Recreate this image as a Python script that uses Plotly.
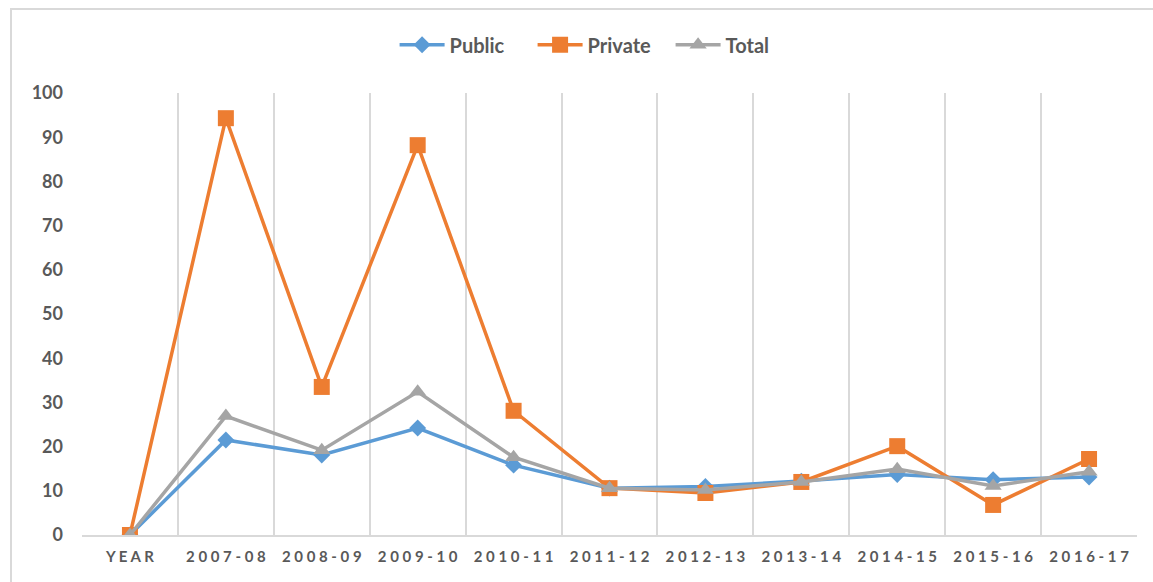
import plotly.graph_objects as go

categories = ["YEAR", "2007-08", "2008-09", "2009-10", "2010-11", "2011-12",
              "2012-13", "2013-14", "2014-15", "2015-16", "2016-17"]
public = [0, 21.5, 18.1, 24.2, 15.8, 10.6, 11.0, 12.2, 13.7, 12.5, 13.1]
private = [0, 94.3, 33.5, 88.2, 28.1, 10.6, 9.5, 12.0, 20.1, 6.8, 17.2]
total = [0, 26.9, 19.2, 32.4, 17.6, 10.6, 10.2, 12.0, 14.9, 11.1, 14.3]
y_ticks = list(range(0, 101, 10))

SP = " "
tick_text = [SP.join(list(c)) for c in categories]
xpos = list(range(len(categories)))

fig = go.Figure()
fig.add_trace(go.Scatter(x=xpos, y=public, name="Public", mode="lines+markers",
                         line=dict(color="#5B9BD5", width=3.5),
                         marker=dict(symbol="diamond", size=13, color="#5B9BD5")))
fig.add_trace(go.Scatter(x=xpos, y=private, name="Private", mode="lines+markers",
                         line=dict(color="#ED7D31", width=3.5),
                         marker=dict(symbol="square", size=16, color="#ED7D31")))
fig.add_trace(go.Scatter(x=xpos, y=total, name="Total", mode="lines+markers",
                         line=dict(color="#A5A5A5", width=3.5),
                         marker=dict(symbol="triangle-up", size=15, color="#A5A5A5")))

fig.update_layout(
    width=1153, height=582,
    margin=dict(l=82, r=16, t=93, b=47),
    paper_bgcolor="white", plot_bgcolor="white",
    font=dict(family="Lato", color="#595959"),
    legend=dict(orientation="h", x=0.4925, y=1.109, xanchor="center", yanchor="middle",
                font=dict(size=20, color="#595959", weight="bold"),
                itemwidth=45, entrywidth=78, traceorder="normal"),
    xaxis=dict(range=[-0.5, 10.5], tickvals=xpos, ticktext=tick_text,
               showgrid=False, zeroline=False, showline=True, linecolor="#D9D9D9",
               linewidth=2, ticks="", ticklabelstandoff=7,
               tickfont=dict(size=15, color="#595959", weight="bold"),
               minor=dict(tick0=-0.5, dtick=1, showgrid=True, gridcolor="#D9D9D9",
                          gridwidth=2, ticks="")),
    yaxis=dict(range=[0, 100], tickvals=y_ticks, showgrid=False, zeroline=False,
               showline=False, ticks="", ticklabelstandoff=18,
               tickfont=dict(size=18, color="#595959", weight="bold")),
    shapes=[dict(type="rect", xref="paper", yref="paper",
                 x0=-0.0673, x1=1.2, y0=-0.3, y1=1.190,
                 line=dict(color="#D9D9D9", width=2), fillcolor="rgba(0,0,0,0)",
                 layer="below")],
)

fig.write_html("out.html")
